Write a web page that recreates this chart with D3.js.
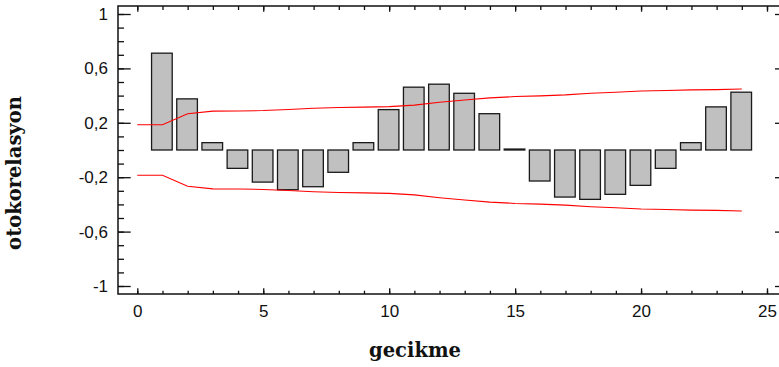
<!DOCTYPE html>
<html>
<head>
<meta charset="utf-8">
<script src="https://cdn.jsdelivr.net/npm/d3@7"></script>
<style>
  body { margin: 0; background: #fff; }
  svg { display: block; }
</style>
</head>
<body>
<div id="chart"></div>
<script>
// gecikme (lag) for each bar
let lags = [1, 2, 3, 4, 5, 6, 7, 8, 9, 10, 11, 12, 13, 14, 15, 16, 17, 18, 19, 20, 21, 22, 23, 24];
// autocorrelation values
let acf = [0.712, 0.376, 0.054, -0.135, -0.236, -0.292, -0.27, -0.164, 0.054, 0.297, 0.462, 0.484,
           0.417, 0.267, 0.007, -0.228, -0.346, -0.363, -0.326, -0.26, -0.135, 0.054, 0.317, 0.425];
// confidence limit (upper; lower is its mirror)
let limitLags = [0, 1, 2, 3, 4, 5, 6, 7, 8, 9, 10, 11, 12, 13, 14, 15, 16, 17, 18, 19, 20, 21, 22, 23, 24];
let limits = [0.186, 0.186, 0.266, 0.286, 0.287, 0.29, 0.298, 0.307, 0.312, 0.315, 0.319, 0.33, 0.351,
              0.368, 0.383, 0.393, 0.398, 0.405, 0.417, 0.425, 0.434, 0.437, 0.442, 0.444, 0.449];

let xTicks = [0, 5, 10, 15, 20, 25];
let xMinorTicks = d3.range(0, 26);
let yTicks = [-1, -0.6, -0.2, 0.2, 0.6, 1];
let yMinorTicks = d3.range(-10, 11).map(d => d / 10);

let width = 779, height = 367;
let plotLeft = 118, plotRight = 781, plotTop = 6, plotBottom = 294;

let trLocale = d3.formatLocale({ decimal: ",", thousands: ".", grouping: [3], currency: ["", ""], minus: "-" });
let fmt = trLocale.format(".1~f");

let xScale = d3.scaleLinear().domain([0, 25]).range([137.3, 767]);
let yScale = d3.scaleLinear().domain([-1, 1]).range([286, 14]);

let svg = d3.select("#chart")
    .append("svg")
    .attr("width", width)
    .attr("height", height);

// bars
let barHalf = 0.41;
svg.append("g")
    .selectAll("rect")
    .data(lags)
    .enter()
    .append("rect")
    .attr("x", d => xScale(d - barHalf) - 0.6)
    .attr("width", xScale(barHalf * 2) - xScale(0))
    .attr("y", (d, i) => yScale(Math.max(0, acf[i])))
    .attr("height", (d, i) => Math.abs(yScale(acf[i]) - yScale(0)))
    .attr("fill", "#c0c0c0")
    .attr("stroke", "#1a1a1a")
    .attr("stroke-width", 1.3);

// limit lines
let line = d3.line()
    .x(d => xScale(d[0]))
    .y(d => yScale(d[1]));

svg.append("path")
    .datum(limitLags.map((d, i) => [d, limits[i]]))
    .attr("d", line)
    .attr("fill", "none")
    .attr("stroke", "#ff0000")
    .attr("stroke-width", 1.1);

svg.append("path")
    .datum(limitLags.map((d, i) => [d, -limits[i]]))
    .attr("d", line)
    .attr("fill", "none")
    .attr("stroke", "#ff0000")
    .attr("stroke-width", 1.1);

// axes, ticks pointing inward
function styleAxis(g) {
    g.select(".domain").remove();
    g.selectAll(".tick line").attr("stroke", "#111").attr("stroke-width", 1.3);
    g.selectAll("text")
        .attr("font-family", "'Liberation Sans', Arial, sans-serif")
        .attr("font-size", "17px")
        .attr("fill", "#111");
}

svg.append("g")
    .attr("transform", "translate(" + plotLeft + ",0)")
    .call(d3.axisLeft(yScale).tickValues(yMinorTicks).tickFormat("").tickSize(-6).tickSizeOuter(0))
    .call(styleAxis);

svg.append("g")
    .attr("transform", "translate(" + plotLeft + ",0)")
    .call(d3.axisLeft(yScale).tickValues(yTicks).tickFormat(fmt).tickSize(-12.7).tickSizeOuter(0).tickPadding(10))
    .call(styleAxis);

svg.append("g")
    .attr("transform", "translate(" + plotRight + ",0)")
    .call(d3.axisRight(yScale).tickValues(yTicks).tickFormat("").tickSize(-6).tickSizeOuter(0))
    .call(styleAxis);

svg.append("g")
    .attr("transform", "translate(0," + plotBottom + ")")
    .call(d3.axisBottom(xScale).tickValues(xMinorTicks).tickFormat("").tickSize(-3.3).tickSizeOuter(0))
    .call(styleAxis);

svg.append("g")
    .attr("transform", "translate(0," + plotBottom + ")")
    .call(d3.axisBottom(xScale).tickValues(xTicks).tickFormat(d => d).tickSize(-5.7).tickSizeOuter(0).tickPadding(11))
    .call(styleAxis);

svg.append("g")
    .attr("transform", "translate(0," + plotTop + ")")
    .call(d3.axisTop(xScale).tickValues(xMinorTicks).tickFormat("").tickSize(-4).tickSizeOuter(0))
    .call(styleAxis);

svg.append("g")
    .attr("transform", "translate(0," + plotTop + ")")
    .call(d3.axisTop(xScale).tickValues(xTicks).tickFormat("").tickSize(-5.7).tickSizeOuter(0))
    .call(styleAxis);

// frame
svg.append("rect")
    .attr("x", plotLeft)
    .attr("y", plotTop)
    .attr("width", plotRight - plotLeft)
    .attr("height", plotBottom - plotTop)
    .attr("fill", "none")
    .attr("stroke", "#111")
    .attr("stroke-width", 1.5);

// axis titles
svg.append("text")
    .text("gecikme")
    .attr("x", 415)
    .attr("y", 356.5)
    .attr("text-anchor", "middle")
    .attr("font-family", "DejaVu Serif, serif")
    .attr("font-weight", "bold")
    .attr("font-size", "19.5px")
    .attr("fill", "#111");

svg.append("text")
    .text("otokorelasyon")
    .attr("transform", "translate(21,173) rotate(-90)")
    .attr("text-anchor", "middle")
    .attr("font-family", "DejaVu Serif, serif")
    .attr("font-weight", "bold")
    .attr("font-size", "19.5px")
    .attr("fill", "#111");
</script>
</body>
</html>
